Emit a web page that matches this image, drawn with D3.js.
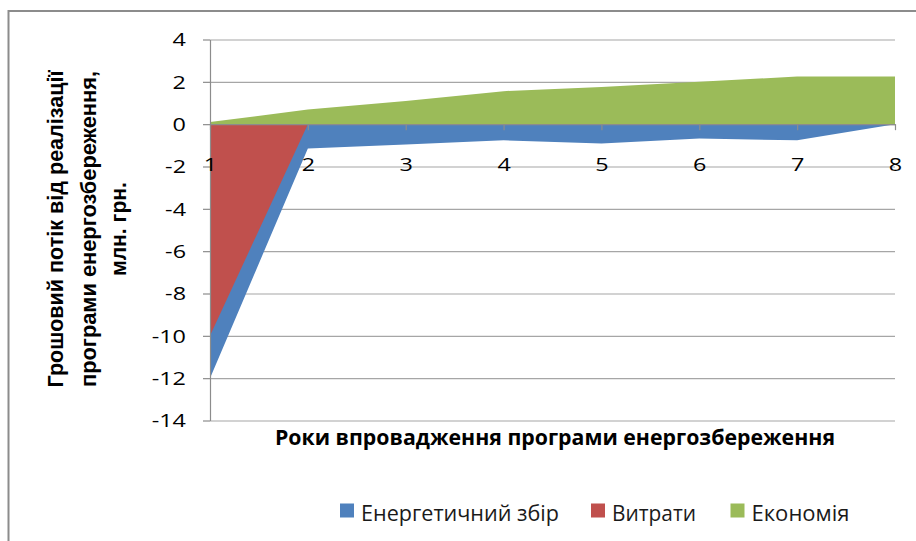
<!DOCTYPE html>
<html>
<head>
<meta charset="utf-8">
<script src="https://cdn.jsdelivr.net/npm/d3@7"></script>
<style>
  html, body { margin: 0; padding: 0; background: #fff; }
  svg { display: block; }
</style>
</head>
<body>
<svg id="chart" width="916" height="541"></svg>
<script>
// ---- data ----
const years = [1, 2, 3, 4, 5, 6, 7, 8];
const energyLevy = [-12, -1.15, -0.96, -0.76, -0.91, -0.68, -0.76, 0];
const costs = [-10, 0, 0, 0, 0, 0, 0, 0];
const savings = [0.1, 0.69, 1.1, 1.56, 1.76, 2.0, 2.25, 2.25];
const yTicks = [4, 2, 0, -2, -4, -6, -8, -10, -12, -14];
const seriesNames = ["Енергетичний збір", "Витрати", "Економія"];
const seriesColors = ["#4F81BD", "#C0504D", "#9BBB59"];
const yTitleLines = ["Грошовий потік від реалізації", "програми енергозбереження,", "млн. грн."];
const xTitle = "Роки впровадження програми енергозбереження";

(function () {
const svg = d3.select("#chart");
const pL = 210, pR = 895, pT = 39.5, pB = 420.5;
const x = d3.scaleLinear().domain([1, 8]).range([pL, pR]);
const y = d3.scaleLinear().domain([-14, 4]).range([pB, pT]);
const SX = 1.3;
const fmt = d => String(d);

// chart border
svg.append("rect").attr("x", 8.5).attr("y", 11).attr("width", 1000).attr("height", 1000)
  .attr("fill", "none").attr("stroke", "#8c8c8c").attr("stroke-width", 2);

// gridlines
const grid = svg.append("g").attr("transform", `translate(${pL},0)`)
  .call(d3.axisLeft(y).tickValues(yTicks).tickSize(-(pR - pL)).tickFormat(""));
grid.select(".domain").remove();
grid.selectAll("line").attr("stroke", "#a6a6a6").attr("stroke-width", 1.2);

// areas
const seriesData = [energyLevy, costs, savings];
const area = d3.area().x((d, i) => x(years[i])).y0(y(0)).y1(d => y(d));
svg.append("g").selectAll("path").data(seriesData).join("path")
  .attr("d", d => area(d))
  .attr("fill", (d, i) => seriesColors[i]);

// y axis
const yAx = svg.append("g").attr("transform", `translate(${pL},0)`)
  .call(d3.axisLeft(y).tickValues(yTicks).tickSize(7).tickSizeOuter(0).tickFormat(fmt));
yAx.select(".domain").attr("stroke", "#8c8c8c").attr("stroke-width", 1.2);
yAx.selectAll("line").attr("stroke", "#8c8c8c").attr("stroke-width", 1.2);
yAx.selectAll("text")
  .attr("x", -24 / SX).attr("dy", "0.36em")
  .attr("transform", `scale(${SX},1)`)
  .style("font-family", "'Open Sans', sans-serif").style("font-size", "18px").attr("fill", "#000");

// x axis at zero
const xAx = svg.append("g").attr("transform", `translate(0,${y(0)})`)
  .call(d3.axisBottom(x).tickValues(years).tickSize(6).tickSizeOuter(0).tickFormat(fmt));
xAx.select(".domain").attr("stroke", "#8c8c8c").attr("stroke-width", 1.2);
xAx.selectAll("line").attr("stroke", "#8c8c8c").attr("stroke-width", 1.2);
xAx.selectAll("text")
  .attr("y", 40).attr("dy", "0.36em")
  .attr("transform", `scale(${SX},1)`)
  .style("font-family", "'Open Sans', sans-serif").style("font-size", "18px").attr("fill", "#000");

// x title
svg.append("text").attr("x", 555).attr("y", 444.8).attr("text-anchor", "middle")
  .attr("textLength", 560).attr("lengthAdjust", "spacingAndGlyphs")
  .style("font-family", "'Open Sans', sans-serif").style("font-weight", "bold").style("font-size", "21px")
  .attr("fill", "#000").text(xTitle);

// y title
const yTitleX = [63, 96, 126];
const yTitleLen = [317, 316, 94];
yTitleLines.forEach((t, i) => {
  svg.append("text")
    .attr("transform", `translate(${yTitleX[i]},229) rotate(-90)`)
    .attr("text-anchor", "middle")
    .attr("textLength", yTitleLen[i]).attr("lengthAdjust", "spacingAndGlyphs")
    .style("font-family", "'Liberation Sans', Arial, sans-serif").style("font-weight", "bold").style("font-size", "22px")
    .attr("fill", "#000").text(t);
});

// legend
const legX = [340, 591, 730.5];
const legLen = [198, 84, 98];
const leg = svg.append("g").selectAll("g").data(seriesNames).join("g");
leg.append("rect").attr("x", (d, i) => legX[i]).attr("y", 503.5).attr("width", 14).attr("height", 14)
  .attr("fill", (d, i) => seriesColors[i]);
leg.append("text").attr("x", (d, i) => legX[i] + 21).attr("y", 520.5)
  .attr("textLength", (d, i) => legLen[i]).attr("lengthAdjust", "spacingAndGlyphs")
  .style("font-family", "'Open Sans', sans-serif").style("font-size", "21px").attr("fill", "#1a1a1a")
  .text(d => d);
})();
</script>
</body>
</html>
